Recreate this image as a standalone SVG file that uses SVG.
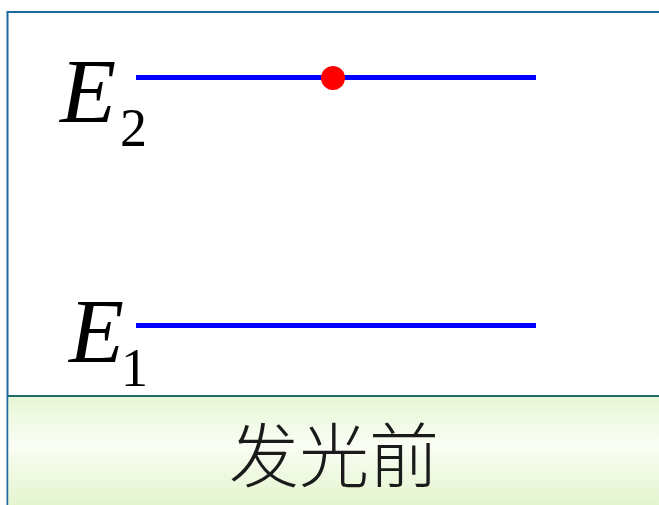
<svg xmlns="http://www.w3.org/2000/svg" width="659" height="505" viewBox="0 0 659 505">
<defs>
<linearGradient id="band" x1="0" y1="0" x2="0" y2="1">
<stop offset="0" stop-color="#e6f6d4"/>
<stop offset="0.45" stop-color="#fafdf5"/>
<stop offset="1" stop-color="#e3f4cc"/>
</linearGradient>
</defs>
<style>
.lvl{stroke:#0000ff;stroke-width:5;fill:none}
.E{font-family:"Liberation Serif",serif;font-style:italic;fill:#000}
.sub{font-family:"Liberation Serif",serif;fill:#000}
.cap{font-family:"Noto Sans CJK SC",sans-serif;fill:#1a1a1a}
</style>
<rect x="0" y="0" width="659" height="505" fill="#ffffff"/>
<g id="frame">
<rect x="7.5" y="12" width="660" height="500" fill="none" stroke="#1c6a9c" stroke-width="2"/>
<rect x="8.5" y="396" width="660" height="110" fill="url(#band)"/>
<line x1="8" y1="396" x2="659" y2="396" stroke="#1f6b6b" stroke-width="2"/>
</g>
<g id="connectors">
<line id="levelE2" class="lvl" x1="136" y1="77.5" x2="536" y2="77.5"/>
<line id="levelE1" class="lvl" x1="136" y1="325.5" x2="536" y2="325.5"/>
</g>
<g id="E2">
<text class="E" x="60" y="122" font-size="92">E</text>
<text class="sub" x="120" y="146" font-size="54">2</text>
</g>
<g id="E1">
<text class="E" x="69" y="362" font-size="90">E</text>
<text class="sub" x="121" y="386" font-size="54">1</text>
</g>
<g id="electron">
<circle cx="333" cy="78" r="12" fill="#ff0000"/>
</g>
<g id="caption">
<text class="cap" x="334" y="482" font-size="70" font-weight="300" text-anchor="middle">发光前</text>
</g>
</svg>
